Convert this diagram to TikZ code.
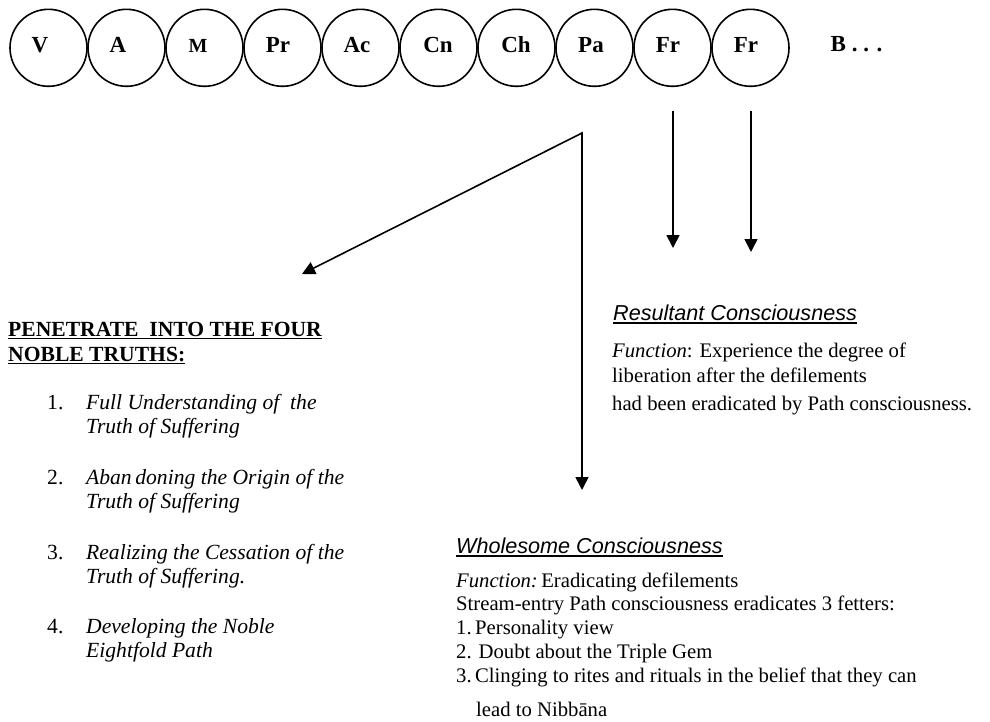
\documentclass[tikz,border=0pt]{standalone}
\usepackage{fontspec}
\setmainfont{Liberation Serif}
\newfontfamily\sansf{Liberation Sans}
\usetikzlibrary{arrows.meta}
\begin{document}
\begin{tikzpicture}[x=1pt,y=-1pt,
  circ/.style={circle,draw,line width=1.6pt,minimum size=77pt,inner sep=0pt},
  lab/.style={inner sep=0pt,anchor=base},
  txt/.style={font=\fontsize{21.6}{24}\selectfont,inner sep=0pt,anchor=base west},
  rtxt/.style={txt,font=\fontsize{20.7}{24}\selectfont},
  itx/.style={txt,font=\fontsize{21.6}{24}\selectfont\itshape},
  bhead/.style={txt,font=\fontsize{21.6}{24}\selectfont\bfseries},
  shead/.style={txt,font=\fontsize{21.6}{24}\selectfont\sansf\itshape},
  arr/.style={line width=1.6pt,-{Triangle[length=13pt,width=13pt]}},
  arrb/.style={line width=1.6pt,{Triangle[length=13pt,width=13pt]}-{Triangle[length=13pt,width=13pt]},line join=miter},
  ul/.style={line width=1.3pt}]
\useasboundingbox (0,0) rectangle (990,721);

% chain of circles
\foreach \k/\t/\lx/\fs in {0/V/40/23,1/A/118/23,2/M/198/20,3/Pr/278/23,4/Ac/357/23,5/Cn/438/23,6/Ch/516/23,7/Pa/591/23,8/Fr/668/23,9/Fr/746/23}{
  \node[circ] (c\k) at (48.5+78*\k,47.8) {};
  \node[lab,font=\fontsize{\fs}{\fs}\selectfont\bfseries] (l\k) at (\lx,52) {\t};
}
\node[lab,anchor=base west,font=\fontsize{23}{23}\selectfont\bfseries] (bb) at (830.5,51) {B . . .};

% connectors
\coordinate (v) at (582,133);
\coordinate (t1) at (302,274);
\coordinate (t2) at (582,490);
\draw[arrb] (t1) -- (v) -- (t2);
\coordinate (f1s) at (673,111);
\coordinate (f1e) at (673,248);
\coordinate (f2s) at (751,111);
\coordinate (f2e) at (751,252);
\draw[arr] (f1s) -- (f1e);
\draw[arr] (f2s) -- (f2e);

% left column
\node[bhead] (h1) at (8,336) {PENETRATE\ \ INTO THE FOUR};
\draw[ul] ([yshift=-2.5pt]h1.base west) -- ([yshift=-2.5pt]h1.base east);
\node[bhead] (h2) at (8,361) {NOBLE\ TRUTHS:};
\draw[ul] ([yshift=-2.5pt]h2.base west) -- ([yshift=-2.5pt]h2.base east);

\node[txt] (n1) at (47,409) {1.};
\node[itx] (i1a) at (86,409) {Full Understanding of\ \ the};
\node[itx] (i1b) at (86,433) {Truth of Suffering};
\node[txt] (n2) at (47,484) {2.};
\node[itx] (i2a) at (86,484) {Aban\,doning the Origin of the};
\node[itx] (i2b) at (86,508) {Truth of Suffering};
\node[txt] (n3) at (47,559) {3.};
\node[itx] (i3a) at (86,559) {Realizing the Cessation of the};
\node[itx] (i3b) at (86,583) {Truth of Suffering.};
\node[txt] (n4) at (47,633) {4.};
\node[itx] (i4a) at (86,633) {Developing the Noble};
\node[itx] (i4b) at (86,657) {Eightfold Path};

% resultant
\node[shead] (r0) at (613,320) {Resultant Consciousness};
\draw[ul] ([yshift=-3pt]r0.base west) -- ([yshift=-3pt]r0.base east);
\node[rtxt] (r1) at (612,357) {\textit{Function}: Experience the degree of};
\node[rtxt] (r2) at (612,382) {liberation after the defilements};
\node[rtxt] (r3) at (612,410) {had been eradicated by Path consciousness.};

% wholesome
\node[shead] (w0) at (456,553) {Wholesome Consciousness};
\draw[ul] ([yshift=-3pt]w0.base west) -- ([yshift=-3pt]w0.base east);
\node[rtxt] (w1) at (456,587) {\textit{Function:}\,Eradicating defilements};
\node[rtxt] (w2) at (456,610) {Stream-entry Path consciousness eradicates 3 fetters:};
\node[rtxt] (w3) at (456,634) {1.\,Personality view};
\node[rtxt] (w4) at (456,658) {2. Doubt about the Triple Gem};
\node[rtxt] (w5) at (456,682) {3.\,Clinging to rites and rituals in the belief that they can};
\node[rtxt] (w6) at (476,716) {lead to Nibbāna};
\end{tikzpicture}
\end{document}
